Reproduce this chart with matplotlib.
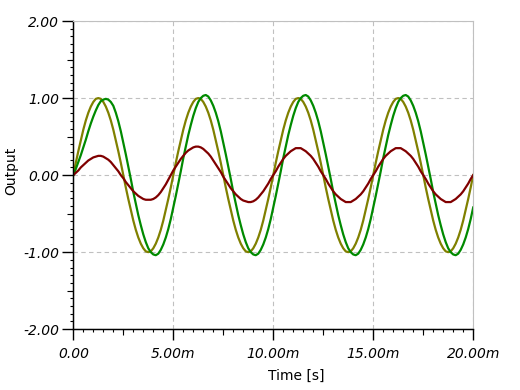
import numpy as np
import matplotlib
matplotlib.use("Agg")
import matplotlib.pyplot as plt
from matplotlib.ticker import MultipleLocator, FuncFormatter, FormatStrFormatter

# sample times, 0.125 ms apart (161 samples over 20 ms)
time_s = np.linspace(0, 20e-3, 161)

# values; the signals are periodic (5 ms = 40 samples)
olive_cycle = [0.00, 0.16, 0.31, 0.45, 0.59, 0.71, 0.81, 0.89, 0.95, 0.99,
               1.00, 0.99, 0.95, 0.89, 0.81, 0.71, 0.59, 0.45, 0.31, 0.16,
               0.00, -0.16, -0.31, -0.45, -0.59, -0.71, -0.81, -0.89, -0.95, -0.99,
               -1.00, -0.99, -0.95, -0.89, -0.81, -0.71, -0.59, -0.45, -0.31, -0.16]
olive_vals = olive_cycle * 4 + [0.00]

# green: start-up (0 .. 1.875 ms), then one steady period starting at 2 ms
green_start = [0.00, 0.08, 0.17, 0.26, 0.36, 0.46, 0.57, 0.67,
               0.76, 0.84, 0.91, 0.96, 0.98, 0.99, 0.98, 0.95]
green_cycle = [0.90, 0.81, 0.70, 0.57, 0.42, 0.27, 0.11, -0.05, -0.22, -0.37,
               -0.52, -0.65, -0.77, -0.87, -0.95, -1.00, -1.03, -1.04, -1.02, -0.97,
               -0.90, -0.81, -0.70, -0.57, -0.42, -0.27, -0.11, 0.05, 0.22, 0.37,
               0.52, 0.65, 0.77, 0.87, 0.95, 1.00, 1.03, 1.04, 1.02, 0.97]
green_vals = (green_start + green_cycle * 4)[:161]

# dark red: first two periods (0 .. 9.875 ms), then steady from 10 ms
red_start = [0.00, 0.03, 0.06, 0.10, 0.13, 0.16, 0.19, 0.21, 0.23, 0.24,
             0.25, 0.25, 0.24, 0.22, 0.20, 0.17, 0.13, 0.09, 0.05, 0.00,
             -0.04, -0.09, -0.13, -0.17, -0.21, -0.24, -0.27, -0.29, -0.31, -0.32,
             -0.32, -0.32, -0.31, -0.29, -0.26, -0.22, -0.17, -0.12, -0.06, 0.00,
             0.06, 0.11, 0.16, 0.21, 0.25, 0.29, 0.32, 0.34, 0.36, 0.37,
             0.37, 0.36, 0.34, 0.31, 0.28, 0.24, 0.19, 0.14, 0.09, 0.04,
             -0.02, -0.07, -0.12, -0.17, -0.21, -0.25, -0.28, -0.31, -0.33, -0.34,
             -0.35, -0.35, -0.34, -0.32, -0.29, -0.25, -0.21, -0.16, -0.11, -0.05]
red_cycle = [0.00, 0.05, 0.11, 0.16, 0.21, 0.25, 0.28, 0.31, 0.33, 0.35,
             0.35, 0.35, 0.33, 0.31, 0.28, 0.25, 0.21, 0.16, 0.11, 0.05,
             0.00, -0.05, -0.11, -0.16, -0.21, -0.25, -0.28, -0.31, -0.33, -0.35,
             -0.35, -0.35, -0.33, -0.31, -0.28, -0.25, -0.21, -0.16, -0.11, -0.05]
red_vals = red_start + red_cycle * 2 + [0.00]

x_major = [0, 5e-3, 10e-3, 15e-3, 20e-3]
x_half = [2.5e-3, 7.5e-3, 12.5e-3, 17.5e-3]
y_major = [-2, -1, 0, 1, 2]
y_half = [-1.5, -0.5, 0.5, 1.5]


def ms_label(v, pos):
    if abs(v) < 1e-12:
        return "0.00"
    return "%.2fm" % (v * 1e3)


fig = plt.figure(figsize=(5.2, 3.9), dpi=100)
ax = fig.add_axes([0.141, 0.156, 0.769, 0.790])

ax.plot(time_s, olive_vals, color="#808000", lw=1.6)
ax.plot(time_s, green_vals, color="#008a00", lw=1.6)
ax.plot(time_s, red_vals, color="#800000", lw=1.6)

ax.set_xlim(0, 20e-3)
ax.set_ylim(-2, 2)
ax.set_xticks(x_major)
ax.set_yticks(y_major)
ax.xaxis.set_minor_locator(MultipleLocator(0.5e-3))
ax.yaxis.set_minor_locator(MultipleLocator(0.1))
ax.xaxis.set_major_formatter(FuncFormatter(ms_label))
ax.yaxis.set_major_formatter(FormatStrFormatter("%.2f"))

ax.grid(True, which="major", color="#c0c0c0", ls=(0, (4, 3)), lw=0.8)
for s in ["top", "right"]:
    ax.spines[s].set_color("#c0c0c0")
for s in ["left", "bottom"]:
    ax.spines[s].set_color("black")
    ax.spines[s].set_linewidth(1.0)

ax.tick_params(which="major", direction="out", length=8, width=1.0, color="black")
ax.tick_params(which="minor", direction="out", length=2.3, width=0.8, color="black")
ax.tick_params(axis="y", which="major", pad=2)
ax.tick_params(axis="x", which="major", pad=5)
for lab in ax.get_xticklabels() + ax.get_yticklabels():
    lab.set_fontstyle("italic")
    lab.set_fontsize(10)

# medium ticks at the half-way marks
secx = ax.secondary_xaxis("bottom")
secx.set_xticks(x_half)
secx.tick_params(length=4, width=0.8, labelbottom=False)
secy = ax.secondary_yaxis("left")
secy.set_yticks(y_half)
secy.tick_params(length=4, width=0.8, labelleft=False)

ax.set_xlabel("Time [s]", fontsize=10)
ax.xaxis.set_label_coords(0.557, -0.130)
ax.set_ylabel("Output", fontsize=10)
ax.yaxis.set_label_coords(-0.138, 0.514)

fig.savefig("out.png", dpi=100)
